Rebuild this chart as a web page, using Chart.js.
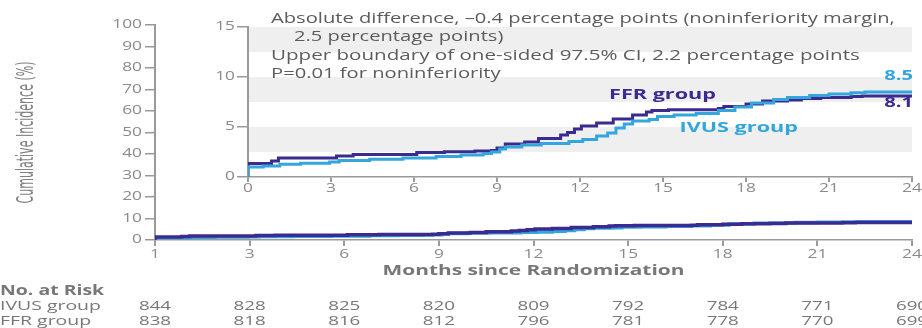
<!DOCTYPE html>
<html>
<head>
<meta charset="utf-8">
<script src="https://cdn.jsdelivr.net/npm/chart.js@4.4.1/dist/chart.umd.min.js"></script>
<style>
  html, body { margin: 0; padding: 0; background: #ffffff; }
  #wrap { position: relative; width: 922px; height: 328px; overflow: hidden; }
  #inset { position: absolute; left: 200px; top: 0; }
</style>
</head>
<body>
<div id="wrap">
  <canvas id="main" width="922" height="328"></canvas>
  <canvas id="inset" width="722" height="200"></canvas>
</div>
<script>
// Kaplan-Meier style cumulative incidence (%) by month, step changes
const ffrMonths = [0, 0, 0.85, 1.1, 3.2, 3.8, 6.1, 7.1, 8.2, 8.8, 9.0, 9.3, 10.0, 10.5, 11.3, 11.55, 11.8, 12.05, 12.6, 13.2, 13.9, 14.4, 14.6, 15.2, 17.0, 17.2, 18.0, 18.6, 19.5, 20.0, 20.7, 21.8, 22.2, 24];
const ffrIncidence = [0, 1.35, 1.6, 1.9, 2.1, 2.25, 2.45, 2.52, 2.6, 2.65, 2.9, 3.3, 3.5, 3.85, 4.2, 4.45, 4.8, 5.1, 5.4, 5.8, 6.2, 6.5, 6.65, 6.72, 6.85, 7.05, 7.3, 7.6, 7.7, 7.85, 7.95, 8.05, 8.1, 8.1];

const ivusMonths = [0, 0, 0.55, 1.15, 1.9, 2.95, 3.3, 4.4, 5.6, 6.8, 7.7, 8.5, 8.8, 9.1, 9.3, 9.9, 10.6, 11.6, 12.1, 12.6, 13.0, 13.3, 13.6, 13.9, 14.5, 14.8, 15.4, 16.2, 17.0, 17.6, 18.2, 19.0, 19.5, 20.3, 21.0, 21.8, 22.3, 24];
const ivusIncidence = [0, 1.0, 1.1, 1.27, 1.38, 1.5, 1.65, 1.77, 1.9, 2.05, 2.2, 2.35, 2.5, 2.8, 3.0, 3.2, 3.35, 3.55, 3.75, 4.1, 4.4, 4.9, 5.3, 5.6, 5.75, 6.05, 6.2, 6.35, 6.65, 7.0, 7.4, 7.75, 7.95, 8.15, 8.3, 8.42, 8.5, 8.5];

// Axis ticks
const tickMonths = [0, 3, 6, 9, 12, 15, 18, 21, 24];
const mainXTickLabels = ['1', '3', '6', '9', '12', '15', '18', '21', '24'];
const insetXTickLabels = ['0', '3', '6', '9', '12', '15', '18', '21', '24'];
const mainYTicks = [0, 10, 20, 30, 40, 50, 60, 70, 80, 90, 100];
const insetYTicks = [0, 5, 10, 15];

// Numbers at risk at each tick month
const riskIvus = [844, 828, 825, 820, 809, 792, 784, 771, 690];
const riskFfr = [838, 818, 816, 812, 796, 781, 778, 770, 699];

const summaryLines = [
  'Absolute difference, \u20130.4 percentage points (noninferiority margin,',
  '2.5 percentage points)',
  'Upper boundary of one-sided 97.5% CI, 2.2 percentage points',
  'P=0.01 for noninferiority'
];

const FFR_COLOR = '#3b2a90';
const IVUS_COLOR = '#34a6de';
const AXIS_GREY = '#9a9a9a';
const TICK_TEXT = '#8a8a8a';
const BODY_TEXT = '#5c5c5c';
const LABEL_TEXT = '#777777';
const BAND_GREY = '#efefef';
const FONT = '"Open Sans", "DejaVu Sans", sans-serif';
const STRETCH = 1.44; // wide lettering used throughout the figure

const toPoints = (xs, ys) => xs.map((x, i) => ({ x: x, y: ys[i] }));
const ffrPoints = toPoints(ffrMonths, ffrIncidence);
const ivusPoints = toPoints(ivusMonths, ivusIncidence);

function wideText(ctx, text, x, y, o) {
  ctx.save();
  ctx.font = (o.weight || 'normal') + ' ' + o.size + 'px ' + (o.family || FONT);
  ctx.fillStyle = o.color;
  ctx.textAlign = o.align || 'left';
  ctx.textBaseline = 'middle';
  ctx.translate(x, y);
  ctx.scale(o.sx || STRETCH, 1);
  ctx.fillText(text, 0, 0);
  ctx.restore();
}

function fixedTicks(values) {
  return function (scale) { scale.ticks = values.map(v => ({ value: v })); };
}

// ---------- Main chart (0-100 %) ----------
const mainDecor = {
  id: 'mainDecor',
  afterDraw(chart) {
    const ctx = chart.ctx;
    const x = chart.scales.x, y = chart.scales.y;
    const area = chart.chartArea;

    mainYTicks.forEach(v => {
      wideText(ctx, String(v), area.left - 13, y.getPixelForValue(v), { size: 12, color: TICK_TEXT, align: 'right' });
    });
    tickMonths.forEach((m, i) => {
      wideText(ctx, mainXTickLabels[i], x.getPixelForValue(m), area.bottom + 15, { size: 12, color: TICK_TEXT, align: 'center' });
    });

    wideText(ctx, 'Months since Randomization', (area.left + area.right) / 2, area.bottom + 31,
      { size: 14.5, weight: 'bold', color: LABEL_TEXT, align: 'center' });

    // rotated axis title, condensed face
    ctx.save();
    ctx.translate(27, (area.top + area.bottom) / 2);
    ctx.rotate(-Math.PI / 2);
    ctx.font = '15px "Liberation Sans Narrow", "DejaVu Sans Condensed", sans-serif';
    const title = 'Cumulative Incidence (%)';
    const w = ctx.measureText(title).width;
    ctx.scale(142 / w, 1.5);
    ctx.fillStyle = '#808080';
    ctx.textAlign = 'center';
    ctx.textBaseline = 'middle';
    ctx.fillText(title, 0, 0);
    ctx.restore();

    // number-at-risk table
    const rowHead = area.bottom + 51, rowIvus = area.bottom + 66, rowFfr = area.bottom + 81;
    wideText(ctx, 'No. at Risk', 0, rowHead, { size: 13.5, weight: 'bold', color: LABEL_TEXT });
    wideText(ctx, 'IVUS group', 0, rowIvus, { size: 13.5, color: LABEL_TEXT });
    wideText(ctx, 'FFR group', 0, rowFfr, { size: 13.5, color: LABEL_TEXT });
    tickMonths.forEach((m, i) => {
      const px = x.getPixelForValue(m);
      wideText(ctx, String(riskIvus[i]), px, rowIvus, { size: 13, color: LABEL_TEXT, align: 'center' });
      wideText(ctx, String(riskFfr[i]), px, rowFfr, { size: 13, color: LABEL_TEXT, align: 'center' });
    });
  }
};

new Chart(document.getElementById('main'), {
  type: 'line',
  data: {
    datasets: [
      { label: 'FFR group', data: ffrPoints, borderColor: FFR_COLOR, borderWidth: 3.5, stepped: true, pointRadius: 0, fill: false },
      { label: 'IVUS group', data: ivusPoints, borderColor: IVUS_COLOR, borderWidth: 3.5, stepped: true, pointRadius: 0, fill: false }
    ]
  },
  options: {
    responsive: false,
    animation: false,
    devicePixelRatio: 1,
    parsing: false,
    layout: { padding: { top: 25, right: 10, left: 0, bottom: 0 } },
    plugins: { legend: { display: false }, tooltip: { enabled: false } },
    scales: {
      x: {
        type: 'linear', min: 0, max: 24,
        afterBuildTicks: fixedTicks(tickMonths),
        afterFit: s => { s.height = 88; },
        ticks: { display: false },
        grid: { drawOnChartArea: false, drawTicks: true, tickLength: 6, color: AXIS_GREY, lineWidth: 2 },
        border: { display: true, color: AXIS_GREY, width: 1.5 }
      },
      y: {
        type: 'linear', min: 0, max: 100,
        afterBuildTicks: fixedTicks(mainYTicks),
        afterFit: s => { s.width = 155; },
        ticks: { display: false },
        grid: { drawOnChartArea: false, drawTicks: true, tickLength: 10, color: AXIS_GREY, lineWidth: 1.5 },
        border: { display: true, color: AXIS_GREY, width: 2 }
      }
    }
  },
  plugins: [mainDecor]
});

// ---------- Inset (0-15 %) ----------
const insetDecor = {
  id: 'insetDecor',
  beforeDatasetsDraw(chart) {
    const ctx = chart.ctx, y = chart.scales.y, area = chart.chartArea;
    ctx.save();
    ctx.fillStyle = BAND_GREY;
    [[2.5, 5], [7.5, 10], [12.5, 15]].forEach(([lo, hi]) => {
      const top = y.getPixelForValue(hi), bottom = y.getPixelForValue(lo);
      ctx.fillRect(area.left + 1, top, area.right - area.left - 1, bottom - top);
    });
    ctx.restore();
  },
  afterDraw(chart) {
    const ctx = chart.ctx, x = chart.scales.x, y = chart.scales.y, area = chart.chartArea;

    insetYTicks.forEach(v => {
      wideText(ctx, String(v), area.left - 13, y.getPixelForValue(v), { size: 12, color: TICK_TEXT, align: 'right' });
    });
    tickMonths.forEach((m, i) => {
      wideText(ctx, insetXTickLabels[i], x.getPixelForValue(m), area.bottom + 12, { size: 12, color: TICK_TEXT, align: 'center' });
    });

    const left = area.left + 23;
    wideText(ctx, summaryLines[0], left, 19, { size: 14, color: BODY_TEXT });
    wideText(ctx, summaryLines[1], left + 23, 37, { size: 14, color: BODY_TEXT });
    wideText(ctx, summaryLines[2], left, 56, { size: 14, color: BODY_TEXT, sx: 1.47 });
    wideText(ctx, summaryLines[3], left, 74, { size: 14, color: BODY_TEXT });

    wideText(ctx, 'FFR group', x.getPixelForValue(13.05), y.getPixelForValue(8.2), { size: 15, weight: 'bold', color: FFR_COLOR });
    wideText(ctx, 'IVUS group', x.getPixelForValue(15.6), y.getPixelForValue(4.9), { size: 15, weight: 'bold', color: IVUS_COLOR });

    const ivusEnd = ivusIncidence[ivusIncidence.length - 1];
    const ffrEnd = ffrIncidence[ffrIncidence.length - 1];
    const endX = x.getPixelForValue(24) + 1;
    wideText(ctx, ivusEnd.toFixed(1), endX, y.getPixelForValue(ivusEnd) - 16, { size: 14, weight: 'bold', color: IVUS_COLOR, align: 'right' });
    wideText(ctx, ffrEnd.toFixed(1), endX, y.getPixelForValue(ffrEnd) + 7, { size: 14, weight: 'bold', color: FFR_COLOR, align: 'right' });
  }
};

new Chart(document.getElementById('inset'), {
  type: 'line',
  data: {
    datasets: [
      { label: 'IVUS group', data: ivusPoints, borderColor: IVUS_COLOR, borderWidth: 3, stepped: true, pointRadius: 0, fill: false },
      { label: 'FFR group', data: ffrPoints, borderColor: FFR_COLOR, borderWidth: 3, stepped: true, pointRadius: 0, fill: false }
    ]
  },
  options: {
    responsive: false,
    animation: false,
    devicePixelRatio: 1,
    parsing: false,
    layout: { padding: { top: 27, right: 10, left: 0, bottom: 0 } },
    plugins: { legend: { display: false }, tooltip: { enabled: false } },
    scales: {
      x: {
        type: 'linear', min: 0, max: 24,
        afterBuildTicks: fixedTicks(tickMonths),
        afterFit: s => { s.height = 23; },
        ticks: { display: false },
        grid: { drawOnChartArea: false, drawTicks: true, tickLength: 5, color: AXIS_GREY, lineWidth: 2 },
        border: { display: true, color: AXIS_GREY, width: 1.5 }
      },
      y: {
        type: 'linear', min: 0, max: 15,
        afterBuildTicks: fixedTicks(insetYTicks),
        afterFit: s => { s.width = 48; },
        ticks: { display: false },
        grid: { drawOnChartArea: false, drawTicks: true, tickLength: 11, color: AXIS_GREY, lineWidth: 1.5 },
        border: { display: true, color: AXIS_GREY, width: 2 }
      }
    }
  },
  plugins: [insetDecor]
});
</script>
</body>
</html>
